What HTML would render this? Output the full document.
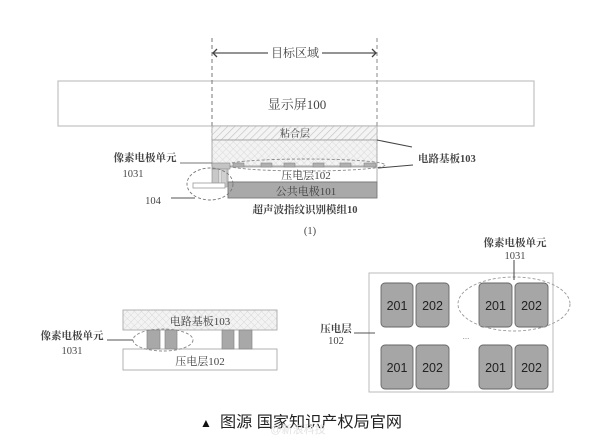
<!DOCTYPE html>
<html><head><meta charset="utf-8">
<style>
html,body{margin:0;padding:0;background:#fff;}
svg{display:block;}
.s{font-family:"Liberation Serif","Noto Serif CJK SC",serif;fill:#444;}
.a{font-family:"Liberation Sans","Noto Sans CJK SC",sans-serif;}
</style></head>
<body>
<svg width="600" height="443" viewBox="0 0 600 443" xmlns="http://www.w3.org/2000/svg">
<defs>
<pattern id="hatch" width="5" height="5" patternUnits="userSpaceOnUse" patternTransform="rotate(45)">
<rect width="5" height="5" fill="#f4f4f4"/>
<line x1="0" y1="0" x2="0" y2="5" stroke="#c4c4c4" stroke-width="1.3"/>
</pattern>
<pattern id="cross" width="5" height="5" patternUnits="userSpaceOnUse" patternTransform="rotate(45)">
<rect width="5" height="5" fill="#f3f3f3"/>
<line x1="0" y1="0" x2="0" y2="5" stroke="#d8d8d8" stroke-width="0.9"/>
<line x1="0" y1="0" x2="5" y2="0" stroke="#d8d8d8" stroke-width="0.9"/>
</pattern>
</defs>
<rect width="600" height="443" fill="#fff"/>

<!-- ===== Figure (1) ===== -->
<rect x="58" y="81" width="476" height="45" fill="#fff" stroke="#c2c2c2" stroke-width="1.2"/>
<text class="s" x="297" y="109" font-size="13" text-anchor="middle">显示屏100</text>

<line x1="212" y1="38" x2="212" y2="140" stroke="#777" stroke-width="1" stroke-dasharray="4,3"/>
<line x1="377" y1="38" x2="377" y2="140" stroke="#888" stroke-width="1" stroke-dasharray="4,3"/>

<line x1="213" y1="53" x2="268" y2="53" stroke="#555" stroke-width="1.3"/>
<line x1="322" y1="53" x2="376" y2="53" stroke="#555" stroke-width="1.3"/>
<polyline points="217,49 213,53 217,57" fill="none" stroke="#444" stroke-width="1.3"/>
<polyline points="372,49 376,53 372,57" fill="none" stroke="#444" stroke-width="1.3"/>
<text class="s" x="295" y="57" font-size="12" text-anchor="middle">目标区域</text>

<rect x="212" y="126" width="165" height="14" fill="url(#hatch)" stroke="#aaa" stroke-width="0.8"/>
<text class="s" x="295" y="137" font-size="10" text-anchor="middle">粘合层</text>

<rect x="212" y="140" width="165" height="26" fill="url(#cross)" stroke="#999" stroke-width="0.8"/>

<rect x="228" y="167" width="149" height="15" fill="#fff" stroke="#999" stroke-width="0.8"/>
<text class="s" x="306" y="179" font-size="11" text-anchor="middle">压电层102</text>
<rect x="228" y="182" width="149" height="16" fill="#a9a9a9" stroke="#777" stroke-width="0.9"/>
<text class="s" x="306" y="195" font-size="11" text-anchor="middle" fill="#333">公共电极101</text>

<g fill="#b0b0b0" stroke="#888" stroke-width="0.6">
<rect x="233" y="163" width="11" height="4"/>
<rect x="261" y="163" width="11" height="4"/>
<rect x="284" y="163" width="11" height="4"/>
<rect x="313" y="163" width="11" height="4"/>
<rect x="340" y="163" width="11" height="4"/>
<rect x="364" y="163" width="12" height="4"/>
</g>
<ellipse cx="306" cy="165" rx="79" ry="6" fill="none" stroke="#888" stroke-width="0.9" stroke-dasharray="3,2"/>

<rect x="212" y="163" width="18" height="6" fill="#c4c4c4" stroke="#888" stroke-width="0.6"/>
<rect x="212" y="169" width="7" height="14" fill="#c8c8c8" stroke="#888" stroke-width="0.6"/>
<rect x="221" y="169" width="6" height="18" fill="#d0d0d0" stroke="#999" stroke-width="0.6"/>
<rect x="193" y="183" width="32" height="5" fill="#fff" stroke="#999" stroke-width="0.8"/>
<ellipse cx="210" cy="184" rx="23" ry="16" fill="none" stroke="#777" stroke-width="0.9" stroke-dasharray="3,2"/>

<text class="s" x="145" y="161" font-size="10.5" text-anchor="middle" font-weight="bold">像素电极单元</text>
<text class="s" x="133" y="177" font-size="10.5" text-anchor="middle">1031</text>
<line x1="180" y1="163" x2="212" y2="163" stroke="#777" stroke-width="1"/>
<text class="s" x="153" y="204" font-size="10.5" text-anchor="middle">104</text>
<line x1="171" y1="198" x2="195" y2="198" stroke="#555" stroke-width="1"/>
<line x1="377" y1="140" x2="412" y2="147" stroke="#444" stroke-width="1.1"/>
<line x1="378" y1="168" x2="413" y2="165" stroke="#444" stroke-width="1.1"/>
<text class="s" x="418" y="162" font-size="10.5" font-weight="bold">电路基板103</text>
<text class="s" x="305" y="213" font-size="10.5" text-anchor="middle" font-weight="bold">超声波指纹识别模组10</text>
<text class="s" x="310" y="234" font-size="10.5" text-anchor="middle">(1)</text>

<!-- ===== Bottom-left ===== -->
<rect x="123" y="310" width="154" height="20" fill="url(#cross)" stroke="#aaa" stroke-width="0.9"/>
<text class="s" x="200" y="325" font-size="11" text-anchor="middle">电路基板103</text>
<rect x="123" y="349" width="154" height="21" fill="#fff" stroke="#aaa" stroke-width="0.9"/>
<text class="s" x="200" y="365" font-size="11" text-anchor="middle">压电层102</text>
<g fill="#a8a8a8" stroke="#888" stroke-width="0.7">
<rect x="147" y="330" width="13" height="19"/>
<rect x="165" y="330" width="12" height="19"/>
<rect x="222" y="330" width="12" height="19"/>
<rect x="239" y="330" width="13" height="19"/>
</g>
<ellipse cx="163" cy="340" rx="30" ry="11" fill="none" stroke="#888" stroke-width="0.9" stroke-dasharray="3,2"/>
<line x1="107" y1="340" x2="133" y2="340" stroke="#555" stroke-width="1.1"/>
<text class="s" x="72" y="339" font-size="10.5" text-anchor="middle" font-weight="bold">像素电极单元</text>
<text class="s" x="72" y="354" font-size="10.5" text-anchor="middle">1031</text>

<!-- ===== Bottom-right ===== -->
<rect x="369" y="273" width="184" height="119" fill="#fff" stroke="#bbb" stroke-width="1"/>
<g fill="#a6a6a6" stroke="#666" stroke-width="0.9">
<rect x="381" y="283" width="32" height="44" rx="4"/>
<rect x="416" y="283" width="33" height="44" rx="4"/>
<rect x="479" y="283" width="33" height="44" rx="4"/>
<rect x="515" y="283" width="33" height="44" rx="4"/>
<rect x="381" y="345" width="32" height="44" rx="4"/>
<rect x="416" y="345" width="33" height="44" rx="4"/>
<rect x="479" y="345" width="33" height="44" rx="4"/>
<rect x="515" y="345" width="33" height="44" rx="4"/>
</g>
<g class="a" font-size="12.5" fill="#222" text-anchor="middle">
<text x="397" y="310">201</text>
<text x="432.5" y="310">202</text>
<text x="495.5" y="310">201</text>
<text x="531.5" y="310">202</text>
<text x="397" y="372">201</text>
<text x="432.5" y="372">202</text>
<text x="495.5" y="372">201</text>
<text x="531.5" y="372">202</text>
</g>
<ellipse cx="514" cy="304" rx="56" ry="27" fill="none" stroke="#999" stroke-width="0.9" stroke-dasharray="3,2"/>
<text class="a" x="466" y="339" font-size="8" fill="#777" text-anchor="middle">...</text>
<line x1="514" y1="260" x2="514" y2="280" stroke="#555" stroke-width="1.1"/>
<text class="s" x="515" y="246" font-size="10.5" text-anchor="middle" font-weight="bold">像素电极单元</text>
<text class="s" x="515" y="259" font-size="10.5" text-anchor="middle">1031</text>
<line x1="354" y1="333" x2="375" y2="333" stroke="#555" stroke-width="1.1"/>
<text class="s" x="336" y="332" font-size="10.5" text-anchor="middle" font-weight="bold">压电层</text>
<text class="s" x="336" y="344" font-size="10.5" text-anchor="middle">102</text>

<!-- caption -->
<text class="a" x="200" y="427" font-size="12" fill="#111">▲</text>
<text class="a" x="220" y="427" font-size="15.5" fill="#222" textLength="182" lengthAdjust="spacingAndGlyphs">图源 国家知识产权局官网</text>
<text class="a" x="298" y="433" font-size="11" fill="#e2e2e2" text-anchor="middle">@新浪科技</text>
</svg>
</body></html>
